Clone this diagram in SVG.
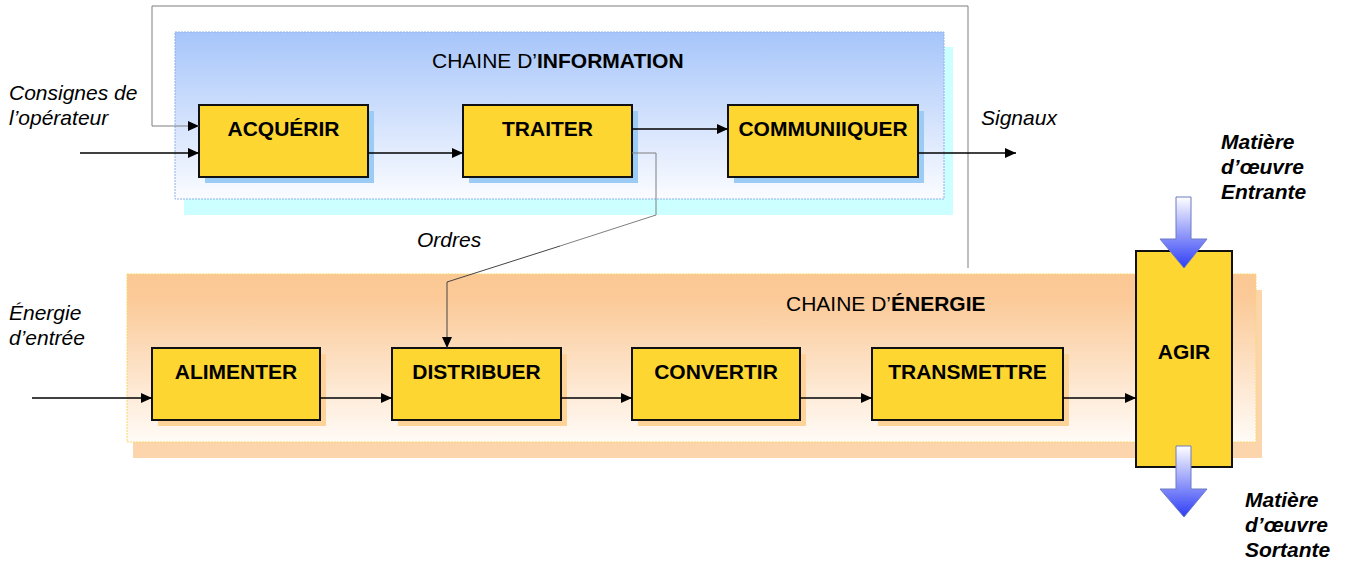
<svg xmlns="http://www.w3.org/2000/svg" width="1350" height="561" viewBox="0 0 1350 561">
<defs>
<style>
.box{fill:#fdd632;stroke:#111;stroke-width:2}
.shI{fill:#9ccbf5}
.shE{fill:#fdd39a}
.lbl{font-family:"Liberation Sans",Arial,sans-serif;font-size:21px;font-weight:bold;fill:#000;text-anchor:middle}
.it{font-family:"Liberation Sans",Arial,sans-serif;font-size:21px;font-style:italic;fill:#000}
.bi{font-family:"Liberation Sans",Arial,sans-serif;font-size:21px;font-style:italic;font-weight:bold;fill:#000}
.ttl{font-family:"Liberation Sans",Arial,sans-serif;font-size:21px;fill:#000}
.ln{fill:none;stroke:#000;stroke-width:1.4}
.gl{fill:none;stroke:#7f7f7f;stroke-width:1}
.dl{fill:none;stroke:#444;stroke-width:1}
</style>
<linearGradient id="gI" x1="0" y1="0" x2="0" y2="1">
<stop offset="0" stop-color="#a6c5fa"/>
<stop offset="1" stop-color="#fbfcff"/>
</linearGradient>
<linearGradient id="gE" x1="0" y1="0" x2="0" y2="1">
<stop offset="0" stop-color="#fbc894"/>
<stop offset="0.15" stop-color="#fbca98"/>
<stop offset="1" stop-color="#fffbf7"/>
</linearGradient>
<linearGradient id="gA" x1="0" y1="0" x2="0" y2="1">
<stop offset="0" stop-color="#ffffff"/>
<stop offset="1" stop-color="#2d3cf5"/>
</linearGradient>
<marker id="ah" markerUnits="userSpaceOnUse" markerWidth="11" markerHeight="10" refX="11" refY="5" orient="auto">
<path d="M0,0 L11,5 L0,10 z" fill="#000"/>
</marker>
</defs>
<rect width="1350" height="561" fill="#fff"/>

<g id="chaine-information">
<rect x="184" y="47" width="769" height="168" fill="#ccffff"/>
<rect x="175" y="32" width="769" height="167" fill="url(#gI)" stroke="#8fb0ea" stroke-width="1" stroke-dasharray="2,1"/>
<text class="ttl" x="432" y="68">CHAINE D’<tspan font-weight="bold">INFORMATION</tspan></text>
</g>

<g id="chaine-energie">
<rect x="133" y="290" width="1129" height="168" fill="#fdd5ad"/>
<rect x="127" y="274" width="1129" height="168" fill="url(#gE)" stroke="#f7d86a" stroke-width="1" stroke-dasharray="2,1"/>
<text class="ttl" x="786" y="311">CHAINE D’<tspan font-weight="bold">ÉNERGIE</tspan></text>
</g>

<g id="acquerir">
<rect class="shI" x="205" y="111" width="169" height="72"/>
<rect class="box" x="199" y="105" width="169" height="72"/>
<text class="lbl" x="283.5" y="136">ACQUÉRIR</text>
</g>
<g id="traiter">
<rect class="shI" x="469" y="111" width="169" height="72"/>
<rect class="box" x="463" y="105" width="169" height="72"/>
<text class="lbl" x="547.5" y="136">TRAITER</text>
</g>
<g id="communiquer">
<rect class="shI" x="734" y="111" width="190" height="72"/>
<rect class="box" x="728" y="105" width="190" height="72"/>
<text class="lbl" x="823" y="136">COMMUNIIQUER</text>
</g>

<g id="alimenter">
<rect class="shE" x="158" y="354" width="168" height="72"/>
<rect class="box" x="152" y="348" width="168" height="72"/>
<text class="lbl" x="236" y="379">ALIMENTER</text>
</g>
<g id="distribuer">
<rect class="shE" x="398" y="354" width="169" height="72"/>
<rect class="box" x="392" y="348" width="169" height="72"/>
<text class="lbl" x="476.5" y="379">DISTRIBUER</text>
</g>
<g id="convertir">
<rect class="shE" x="638" y="354" width="168" height="72"/>
<rect class="box" x="632" y="348" width="168" height="72"/>
<text class="lbl" x="716" y="379">CONVERTIR</text>
</g>
<g id="transmettre">
<rect class="shE" x="878" y="354" width="191" height="72"/>
<rect class="box" x="872" y="348" width="191" height="72"/>
<text class="lbl" x="967.5" y="379">TRANSMETTRE</text>
</g>

<g id="agir">
<rect class="box" x="1136" y="251" width="96" height="216"/>
<text class="lbl" x="1184" y="359">AGIR</text>
</g>

<g id="connectors">
<path class="gl" d="M968,268 V6 H152 V126 H199" marker-end="url(#ah)"/>
<path class="ln" d="M80,153 H199" marker-end="url(#ah)"/>
<path class="ln" d="M368,153 H463" marker-end="url(#ah)"/>
<path class="ln" d="M632,129 H728" marker-end="url(#ah)"/>
<path class="ln" d="M918,153 H1016" marker-end="url(#ah)"/>
<path class="gl" d="M632,153 H656 V215 L560,246"/>
<path class="dl" d="M560,246 L447,282 V348" marker-end="url(#ah)"/>
<path class="ln" d="M32,398 H152" marker-end="url(#ah)"/>
<path class="ln" d="M320,398 H392" marker-end="url(#ah)"/>
<path class="ln" d="M561,398 H632" marker-end="url(#ah)"/>
<path class="ln" d="M800,398 H872" marker-end="url(#ah)"/>
<path class="ln" d="M1063,398 H1136" marker-end="url(#ah)"/>
</g>

<g id="matiere-entrante">
<polygon points="1176,197 1191,197 1191,239 1207,239 1184,268 1160,239 1176,239" fill="url(#gA)" stroke="#6c7bc4" stroke-width="1"/>
<text class="bi" x="1221" y="149">Matière</text>
<text class="bi" x="1221" y="174">d’œuvre</text>
<text class="bi" x="1221" y="199">Entrante</text>
</g>
<g id="matiere-sortante">
<polygon points="1176,446 1191,446 1191,489 1207,489 1184,517 1160,489 1176,489" fill="url(#gA)" stroke="#6c7bc4" stroke-width="1"/>
<text class="bi" x="1245" y="507">Matière</text>
<text class="bi" x="1245" y="532">d’œuvre</text>
<text class="bi" x="1245" y="557">Sortante</text>
</g>

<g id="labels">
<text class="it" x="9" y="100">Consignes de</text>
<text class="it" x="9" y="125">l’opérateur</text>
<text class="it" x="981" y="125">Signaux</text>
<text class="it" x="417" y="247">Ordres</text>
<text class="it" x="9" y="320">Énergie</text>
<text class="it" x="9" y="345">d’entrée</text>
</g>
</svg>
